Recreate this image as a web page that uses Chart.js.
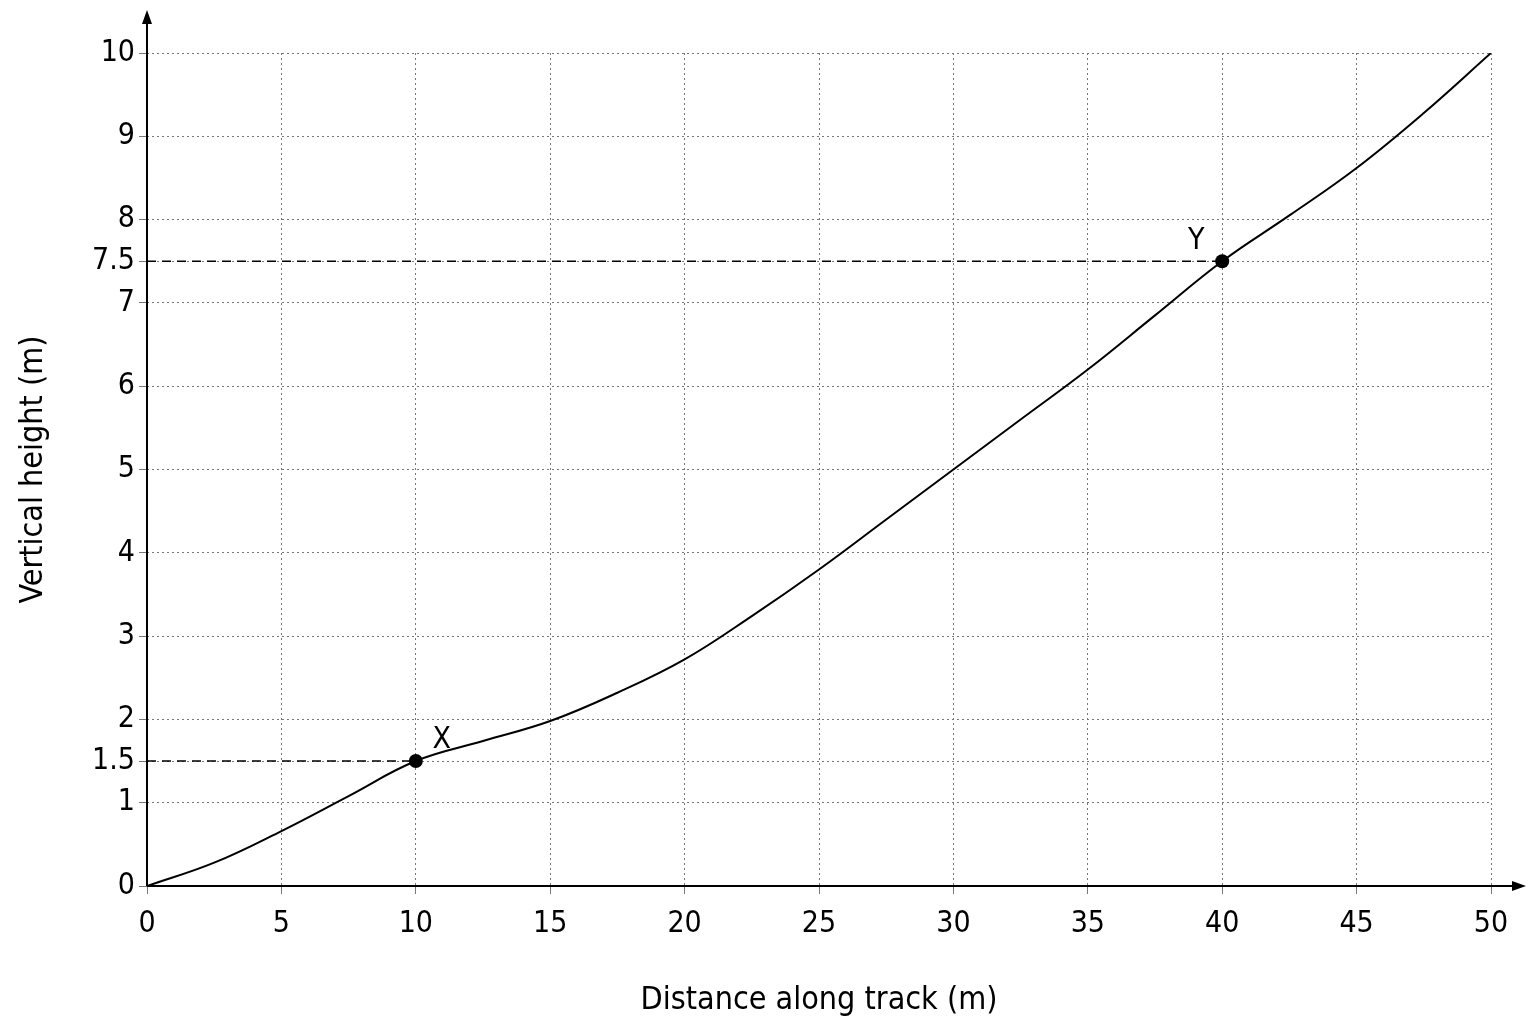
<!DOCTYPE html>
<html><head><meta charset="utf-8">
<script src="https://cdn.jsdelivr.net/npm/chart.js@4"></script>
<style>html,body{margin:0;padding:0;background:#fff}#wrap{width:1536px;height:1024px}</style>
</head><body><div id="wrap"><canvas id="c"></canvas></div>
<script>
const distance = [0, 2.5, 5, 7.5, 10, 12.5, 15, 17.5, 20, 22.5, 25, 27.5, 30, 32.5, 35, 37.5, 40, 42.5, 45, 47.5, 50];
const height   = [0, 0.28, 0.66, 1.08, 1.5, 1.74, 1.98, 2.32, 2.72, 3.24, 3.8, 4.4, 5.0, 5.6, 6.2, 6.85, 7.5, 8.05, 8.62, 9.28, 10];
const markedPoints = [{x:10, y:1.5, label:'X'}, {x:40, y:7.5, label:'Y'}];
const yTicks = [0, 1, 1.5, 2, 3, 4, 5, 6, 7, 7.5, 8, 9, 10];
const xTicks = [0, 5, 10, 15, 20, 25, 30, 35, 40, 45, 50];
const FONT = '"Liberation Sans Narrow","DejaVu Sans Condensed","Roboto",sans-serif';

const extras = {
  id: 'extras',
  beforeDatasetsDraw(chart) {
    const {ctx, scales:{x, y}} = chart;
    ctx.save();
    ctx.strokeStyle = '#000'; ctx.lineWidth = 1.5; ctx.setLineDash([9, 6]);
    markedPoints.forEach(p => {
      ctx.beginPath(); ctx.moveTo(x.getPixelForValue(0), y.getPixelForValue(p.y));
      ctx.lineTo(x.getPixelForValue(p.x), y.getPixelForValue(p.y)); ctx.stroke();
    });
    ctx.restore();
  },
  afterDraw(chart) {
    const {ctx, scales:{x, y}} = chart;
    const x0 = x.getPixelForValue(0), y0 = y.getPixelForValue(0);
    ctx.save();
    ctx.strokeStyle = '#000'; ctx.fillStyle = '#000'; ctx.lineWidth = 2;
    ctx.beginPath(); ctx.moveTo(x0, y0); ctx.lineTo(x0, 20); ctx.stroke();
    ctx.beginPath(); ctx.moveTo(x0, 10); ctx.lineTo(x0-5, 24); ctx.lineTo(x0+5, 24); ctx.closePath(); ctx.fill();
    ctx.beginPath(); ctx.moveTo(x0, y0); ctx.lineTo(1515, y0); ctx.stroke();
    ctx.beginPath(); ctx.moveTo(1526, y0); ctx.lineTo(1512, y0-5); ctx.lineTo(1512, y0+5); ctx.closePath(); ctx.fill();
    ctx.font = '30px ' + FONT; ctx.textAlign = 'center'; ctx.textBaseline = 'alphabetic';
    markedPoints.forEach(p => {
      const px = x.getPixelForValue(p.x), py = y.getPixelForValue(p.y);
      ctx.beginPath(); ctx.arc(px, py, 7, 0, Math.PI*2); ctx.fill();
      if (p.label === 'X') ctx.fillText('X', px + 26, py - 13);
      else ctx.fillText('Y', px - 26, py - 12);
    });
    ctx.restore();
  }
};

new Chart(document.getElementById('c'), {
  type: 'line',
  data: { datasets: [{ data: distance.map((d, i) => ({x: d, y: height[i]})), borderColor: '#000', borderWidth: 2, pointRadius: 0, tension: 0.4, fill: false }] },
  options: {
    responsive: true, maintainAspectRatio: false, animation: false,
    layout: { padding: { left: 10, right: 45, top: 53, bottom: 0 } },
    plugins: { legend: { display: false }, tooltip: { enabled: false } },
    scales: {
      x: {
        type: 'linear', min: 0, max: 50,
        afterBuildTicks: s => { s.ticks = xTicks.map(v => ({value: v})); },
        afterFit: s => { s.height = 1024 - 886; },
        grid: { color: '#777', lineWidth: 1, drawTicks: true, tickLength: 8 },
        border: { display: false, dash: [2, 3] },
        ticks: { color: '#000', font: { family: FONT, size: 30 }, padding: 12, maxRotation: 0, callback: v => String(v) },
        title: { display: true, text: 'Distance along track (m)', color: '#000', font: { family: FONT, size: 32 }, padding: { top: 6 } }
      },
      y: {
        type: 'linear', min: 0, max: 10,
        afterBuildTicks: s => { s.ticks = yTicks.map(v => ({value: v})); },
        afterFit: s => { s.width = 137; },
        grid: { color: '#777', lineWidth: 1, tickLength: 8 },
        border: { display: false, dash: [2, 3] },
        ticks: { color: '#000', font: { family: FONT, size: 30 }, padding: 4, callback: v => String(v) },
        title: { display: true, text: 'Vertical height (m)', color: '#000', font: { family: FONT, size: 32 }, padding: { bottom: 8 } }
      }
    }
  },
  plugins: [extras]
});
</script></body></html>
